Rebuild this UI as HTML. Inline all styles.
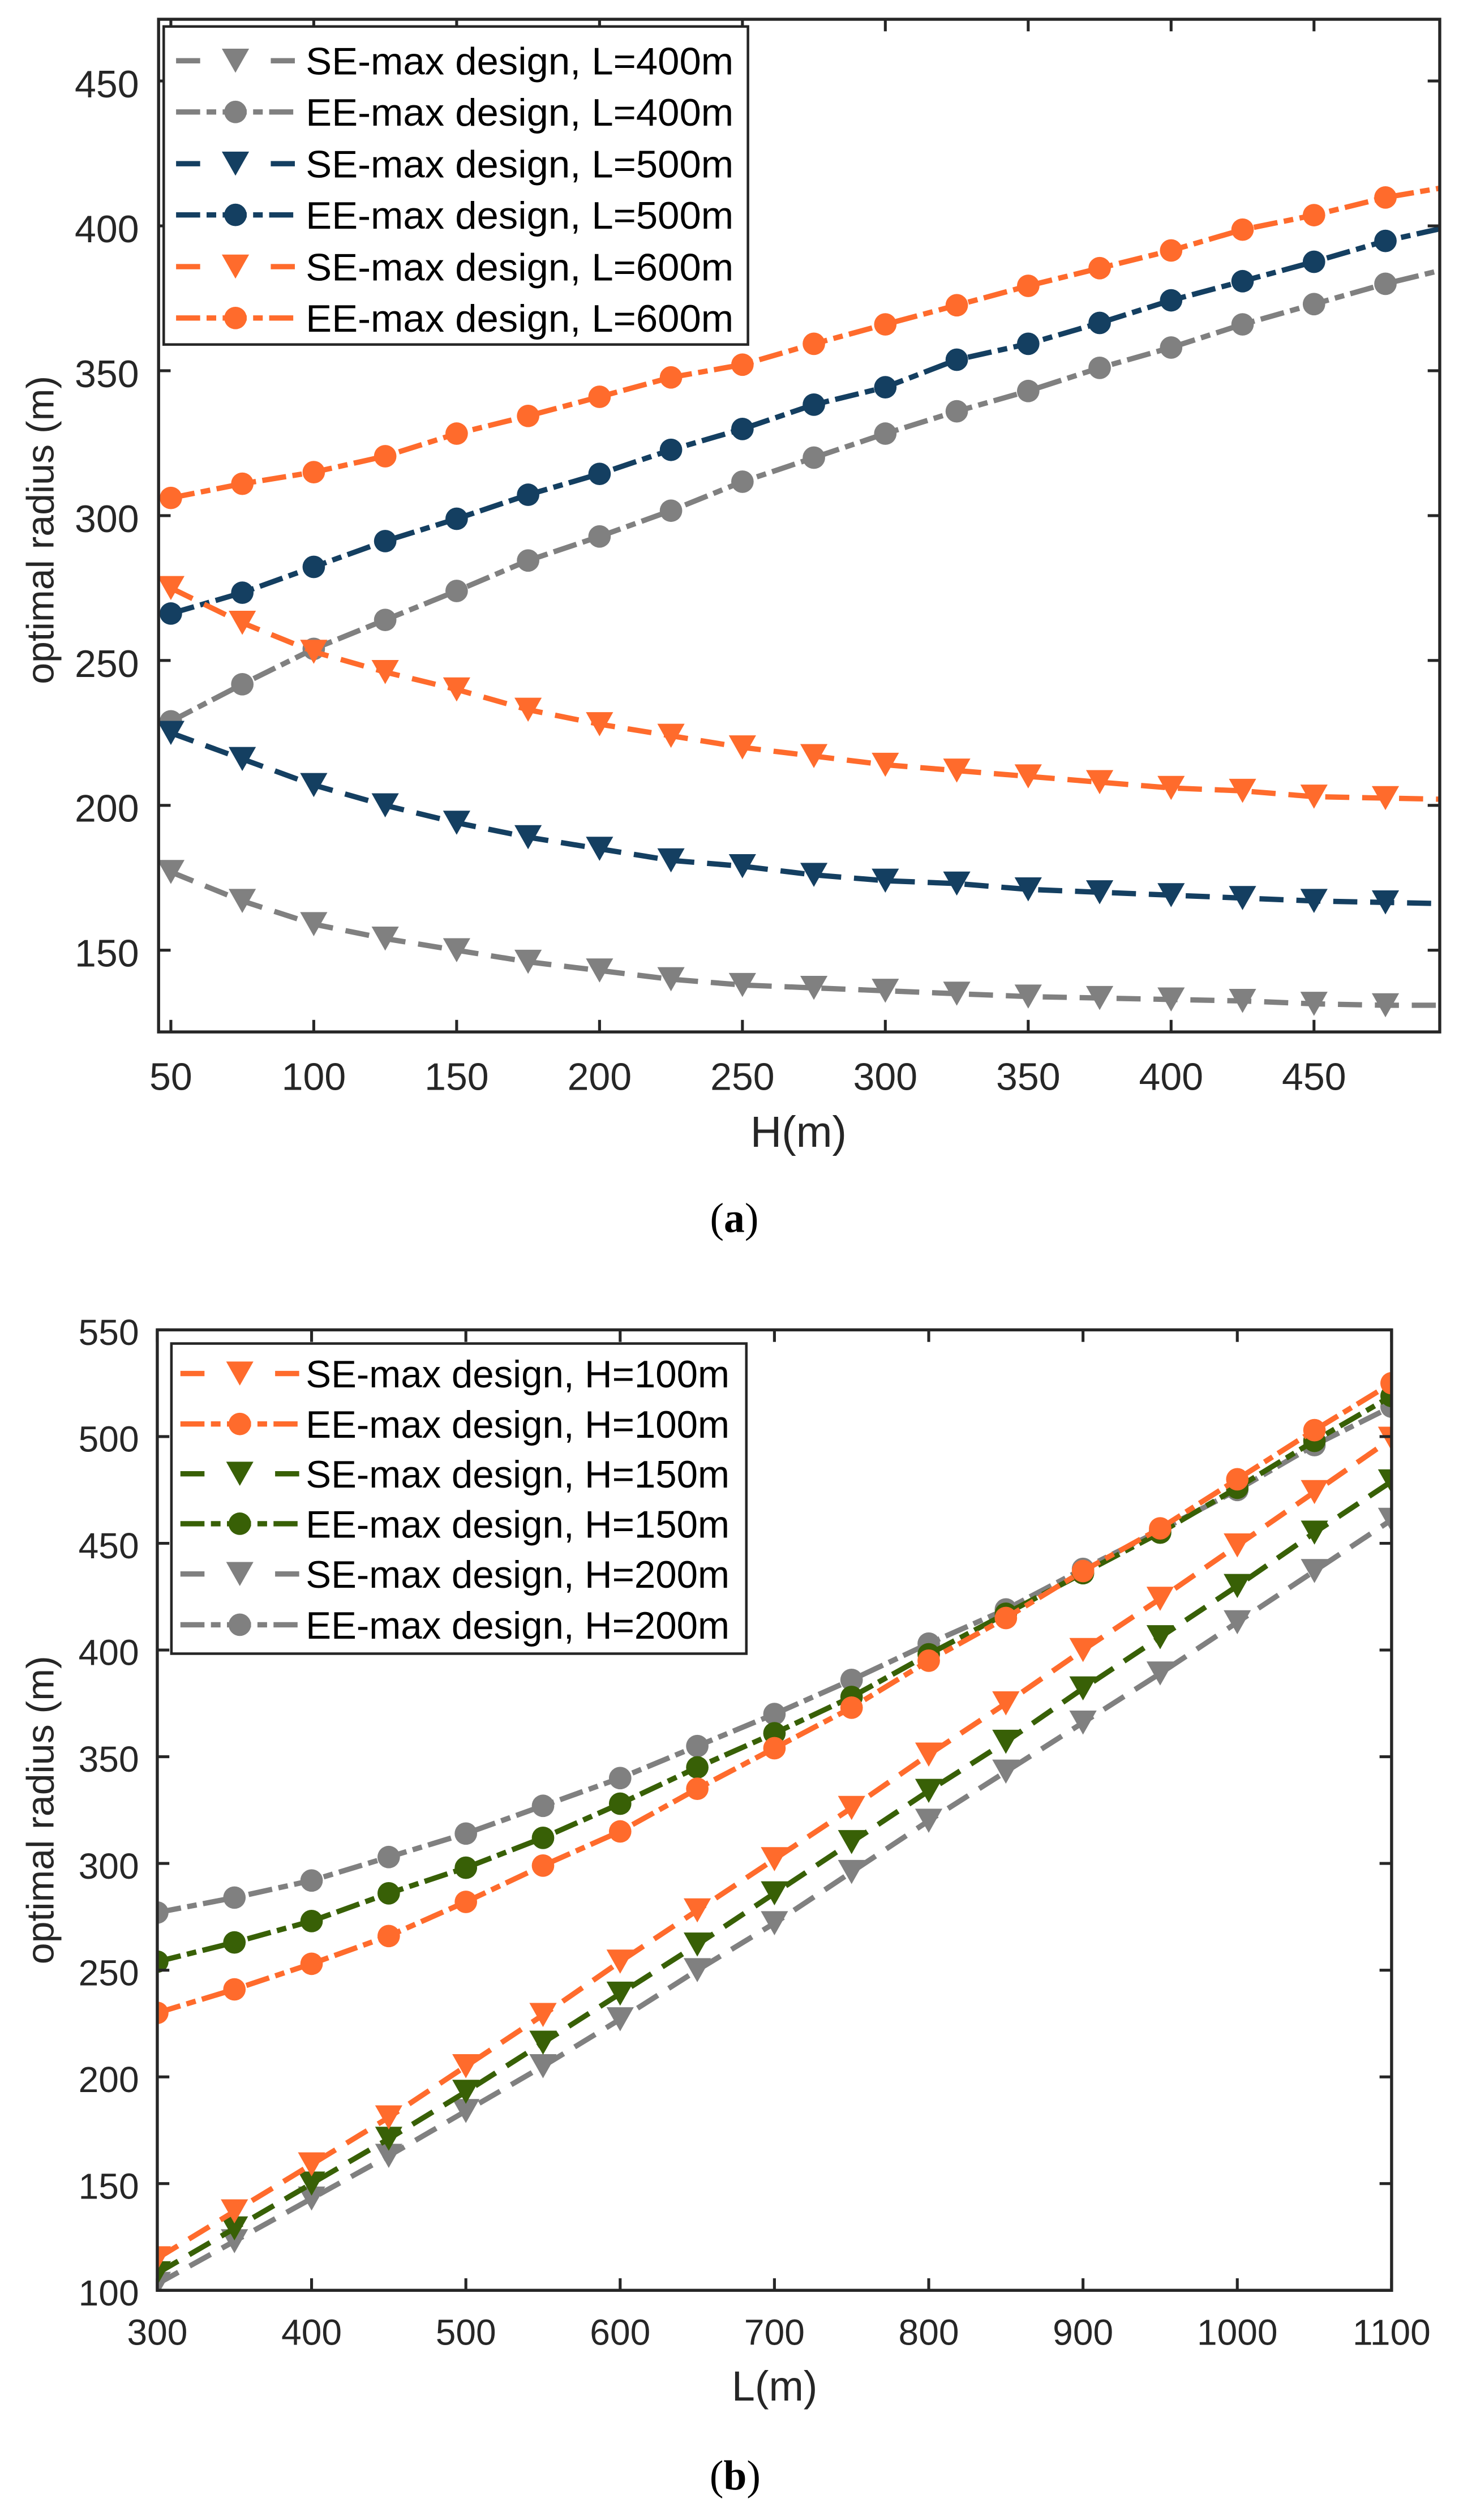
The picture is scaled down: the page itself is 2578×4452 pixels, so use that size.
<!DOCTYPE html>
<html><head><meta charset="utf-8">
<style>
html,body{margin:0;padding:0;background:#fff;}
svg{display:block;}
text{font-family:"Liberation Sans",Arial,sans-serif;fill:#262626;}
</style></head>
<body>
<svg id="fig" xmlns="http://www.w3.org/2000/svg" width="2578" height="4452" viewBox="0 0 909 1569" preserveAspectRatio="none">
<defs>
<clipPath id="clipA"><rect x="98.8" y="12" width="798.2" height="630.5"/></clipPath>
<clipPath id="clipB"><rect x="98" y="828" width="769" height="598"/></clipPath>
</defs>
<rect x="0" y="0" width="909" height="1569" fill="#fff"/>
<g id="chartA"></g>
<g id="chartB"></g>
</svg>
<script>
// ---------- Chart (a) data ----------
const aH = [50,75,100,125,150,175,200,225,250,275,300,325,350,375,400,425,450,475,500];
const aSE400 = [177,167,159,154,150,146,143,140,138,137,136,135,134,133.5,133,132.5,131.5,131,131];
const aEE400 = [229,241.8,254,264,274,284.5,292.8,301.7,311.7,320,328.3,336,343,351,358,366,373,380,386];
const aSE500 = [225,216,207,200,194,189,185,181,179,176,174,173,171,170,169,168,167,166.5,166];
const aEE500 = [266.2,273.4,282.3,291.2,298.9,307.2,314.4,322.7,329.9,338.3,344.3,353.8,359.3,366.5,374.3,380.9,387.6,394.8,400.3];
const aSE600 = [275,263,253,246,240,233,228,224,220,217,214,212,210,208,206,205,203,202.5,202];
const aEE600 = [306.1,311,315,320.5,328.3,334.4,341,347.7,352.1,359.3,366,372.6,379.3,385.4,391.5,398.7,403.7,409.8,414];
const aXTicks = [50,100,150,200,250,300,350,400,450];
const aYTicks = [150,200,250,300,350,400,450];
const aLegendLabels = ["SE-max design, L=400m","EE-max design, L=400m","SE-max design, L=500m","EE-max design, L=500m","SE-max design, L=600m","EE-max design, L=600m"];

// ---------- Chart (b) data ----------
const bL = [300,350,400,450,500,550,600,650,700,750,800,850,900,950,1000,1050,1100];
const bSE100 = [115,137,159,181,205,229,254,278,302,326,351,375,400,424,449,474,499];
const bEE100 = [230,241,253,266,282,299,315,335,354,373,395,415,437,457,480,503,525];
const bSE150 = [108,129,150,171,193,216,239,262,286,310,334,357,382,406,430,455,479];
const bEE150 = [254,263,273,286,298,312,328,345,361,378,398,417,436,455,476,498,519];
const bSE200 = [103,123,143,163,184,205,227,250,272,296,320,343,366,389,413,437,461];
const bEE200 = [277,284,292,303,314,327,340,355,370,386,403,419,438,456,475,496,514];
const bXTicks = [300,400,500,600,700,800,900,1000,1100];
const bYTicks = [100,150,200,250,300,350,400,450,500,550];
const bLegendLabels = ["SE-max design, H=100m","EE-max design, H=100m","SE-max design, H=150m","EE-max design, H=150m","SE-max design, H=200m","EE-max design, H=200m"];

const NS = "http://www.w3.org/2000/svg";
const GRAY="#808080", NAVY="#143F61", ORANGE="#FF6B2C", GREEN="#386006", AX="#262626";
const DASH="15 8", DASHDOT="15 4 6 4";

function el(tag, attrs, parent){
  const e=document.createElementNS(NS,tag);
  for(const k in attrs) e.setAttribute(k,attrs[k]);
  parent.appendChild(e); return e;
}
function lin(d0,d1,r0,r1){ return v => r0+(v-d0)*(r1-r0)/(d1-d0); }

function marker(g, type, cx, cy, color, name){
  let m;
  if(type==="tri"){
    m = el("polygon",{points:(cx-8.5)+","+(cy-7.5)+" "+(cx+8.5)+","+(cy-7.5)+" "+cx+","+(cy+7.5),fill:color},g);
  } else {
    m = el("circle",{cx:cx,cy:cy,r:7,fill:color},g);
  }
  
  
}

function drawSeries(g, xs, ys, X, Y, color, type, name){
  const sg = el("g",{},g);
  
  
  const pts = xs.map((x,i)=>X(x).toFixed(2)+","+Y(ys[i]).toFixed(2)).join(" ");
  const pl = el("polyline",{points:pts,fill:"none",stroke:color,"stroke-width":3.3,"stroke-dasharray":type==="tri"?DASH:DASHDOT},sg);
  
  
  xs.forEach((x,i)=>marker(sg,type,X(x),Y(ys[i]),color,name+'-point'));
}

function drawAxes(g, box, X, Y, xt, yt, xLabelBase, yLabelRight, yOff, fs){
  xt.forEach(t=>{
    const x=X(t);
    const t1=el("line",{x1:x,y1:box.b,x2:x,y2:box.b-7.5,stroke:AX,"stroke-width":1.8},g);
    
    
    el("line",{x1:x,y1:box.t,x2:x,y2:box.t+7.5,stroke:AX,"stroke-width":1.8},g);
    const tx=el("text",{x:x,y:xLabelBase,"text-anchor":"middle","font-size":fs},g);
    tx.textContent=t;
    
    
  });
  yt.forEach(t=>{
    const y=Y(t);
    const t1=el("line",{x1:box.l,y1:y,x2:box.l+7.5,y2:y,stroke:AX,"stroke-width":1.8},g);
    
    
    el("line",{x1:box.r,y1:y,x2:box.r-7.5,y2:y,stroke:AX,"stroke-width":1.8},g);
    const tx=el("text",{x:yLabelRight,y:y+yOff,"text-anchor":"end","font-size":fs},g);
    tx.textContent=t;
    
    
  });
  const r=el("rect",{x:box.l,y:box.t,width:box.r-box.l,height:box.b-box.t,fill:"none",stroke:AX,"stroke-width":1.9},g);
  
  
}

function drawLegend(g, box, rows, labels, specs, mx, tx, textLen){
  const lg=el("g",{},g);
  
  
  el("rect",{x:box.l,y:box.t,width:box.r-box.l,height:box.b-box.t,fill:"#fff",stroke:AX,"stroke-width":1.6},lg);
  labels.forEach((lab,i)=>{
    const cy=rows[i], s=specs[i];
    const eg=el("g",{},lg);
    
    
    if(s.type==="tri"){
      el("line",{x1:mx-37,y1:cy,x2:mx-22,y2:cy,stroke:s.color,"stroke-width":3.3},eg);
      el("line",{x1:mx+22,y1:cy,x2:mx+37,y2:cy,stroke:s.color,"stroke-width":3.3},eg);
    } else {
      el("line",{x1:mx-37,y1:cy,x2:mx+37,y2:cy,stroke:s.color,"stroke-width":3.3,"stroke-dasharray":"15 4 6 4"},eg);
    }
    marker(eg,s.type,mx,cy,s.color,'legend-marker');
    const t=el("text",{x:tx,y:cy+8.6,"font-size":24,fill:"#000",textLength:textLen,lengthAdjust:"spacingAndGlyphs"},eg);
    t.style.fill="#000";
    t.textContent=lab;
  });
}

// ---------- Chart (a) ----------
(function(){
  const g=document.getElementById("chartA");
  const box={l:98.8,r:897,t:12,b:642.5};
  const X=lin(45.7,494,box.l,box.r), Y=lin(121.8,471.3,box.b,box.t);
  const pg=el("g",{"clip-path":"url(#clipA)"},g);
  
  
  drawSeries(pg,aH,aSE400,X,Y,GRAY,"tri","se-l400");
  drawSeries(pg,aH,aEE400,X,Y,GRAY,"circ","ee-l400");
  drawSeries(pg,aH,aSE500,X,Y,NAVY,"tri","se-l500");
  drawSeries(pg,aH,aEE500,X,Y,NAVY,"circ","ee-l500");
  drawSeries(pg,aH,aSE600,X,Y,ORANGE,"tri","se-l600");
  drawSeries(pg,aH,aEE600,X,Y,ORANGE,"circ","ee-l600");
  drawAxes(g,box,X,Y,aXTicks,aYTicks,678.6,86.6,10.2,24);
  drawLegend(g,{l:102,r:466,t:16.5,b:214.5},[37.8,69.7,101.9,133.8,166,198],aLegendLabels,
    [{type:"tri",color:GRAY},{type:"circ",color:GRAY},{type:"tri",color:NAVY},{type:"circ",color:NAVY},{type:"tri",color:ORANGE},{type:"circ",color:ORANGE}],
    146.7,190.5,266.5);
  const xt=el("text",{x:497.5,y:714,"text-anchor":"middle","font-size":27},g);
  xt.textContent="H(m)";
  
  
  const yt=el("text",{x:0,y:0,"text-anchor":"middle","font-size":24,transform:"translate(33.4,330) rotate(-90)"},g);
  yt.textContent="optimal radius (m)";
  
  
  const cap=el("text",{x:457.5,y:767,"text-anchor":"middle","font-size":26},g);
  cap.style.fontFamily='"Liberation Serif",serif';
  cap.style.fill="#000";
  cap.innerHTML='(<tspan font-weight="bold">a</tspan>)';
  
  
})();

// ---------- Chart (b) ----------
(function(){
  const g=document.getElementById("chartB");
  const box={l:98,r:867,t:828,b:1426};
  const X=lin(300,1100,box.l,box.r), Y=lin(100,550,box.b,box.t);
  const pg=el("g",{"clip-path":"url(#clipB)"},g);
  
  
  drawSeries(pg,bL,bSE200,X,Y,GRAY,"tri","se-h200");
  drawSeries(pg,bL,bEE200,X,Y,GRAY,"circ","ee-h200");
  drawSeries(pg,bL,bSE150,X,Y,GREEN,"tri","se-h150");
  drawSeries(pg,bL,bEE150,X,Y,GREEN,"circ","ee-h150");
  drawSeries(pg,bL,bSE100,X,Y,ORANGE,"tri","se-h100");
  drawSeries(pg,bL,bEE100,X,Y,ORANGE,"circ","ee-h100");
  drawAxes(g,box,X,Y,bXTicks,bYTicks,1460,86.6,9.4,22.6);
  drawLegend(g,{l:106.8,r:465,t:836.5,b:1029.6},[855.2,886.6,917.6,948.7,980,1011.6],bLegendLabels,
    [{type:"tri",color:ORANGE},{type:"circ",color:ORANGE},{type:"tri",color:GREEN},{type:"circ",color:GREEN},{type:"tri",color:GRAY},{type:"circ",color:GRAY}],
    149.4,190.5,264);
  const xt=el("text",{x:482.6,y:1494.6,"text-anchor":"middle","font-size":26},g);
  xt.textContent="L(m)";
  
  
  const yt=el("text",{x:0,y:0,"text-anchor":"middle","font-size":24,transform:"translate(33.4,1127) rotate(-90)"},g);
  yt.textContent="optimal radius (m)";
  
  
  const cap=el("text",{x:458,y:1550,"text-anchor":"middle","font-size":26},g);
  cap.style.fontFamily='"Liberation Serif",serif';
  cap.style.fill="#000";
  cap.innerHTML='(<tspan font-weight="bold">b</tspan>)';
  
  
})();
</script>
</body></html>
